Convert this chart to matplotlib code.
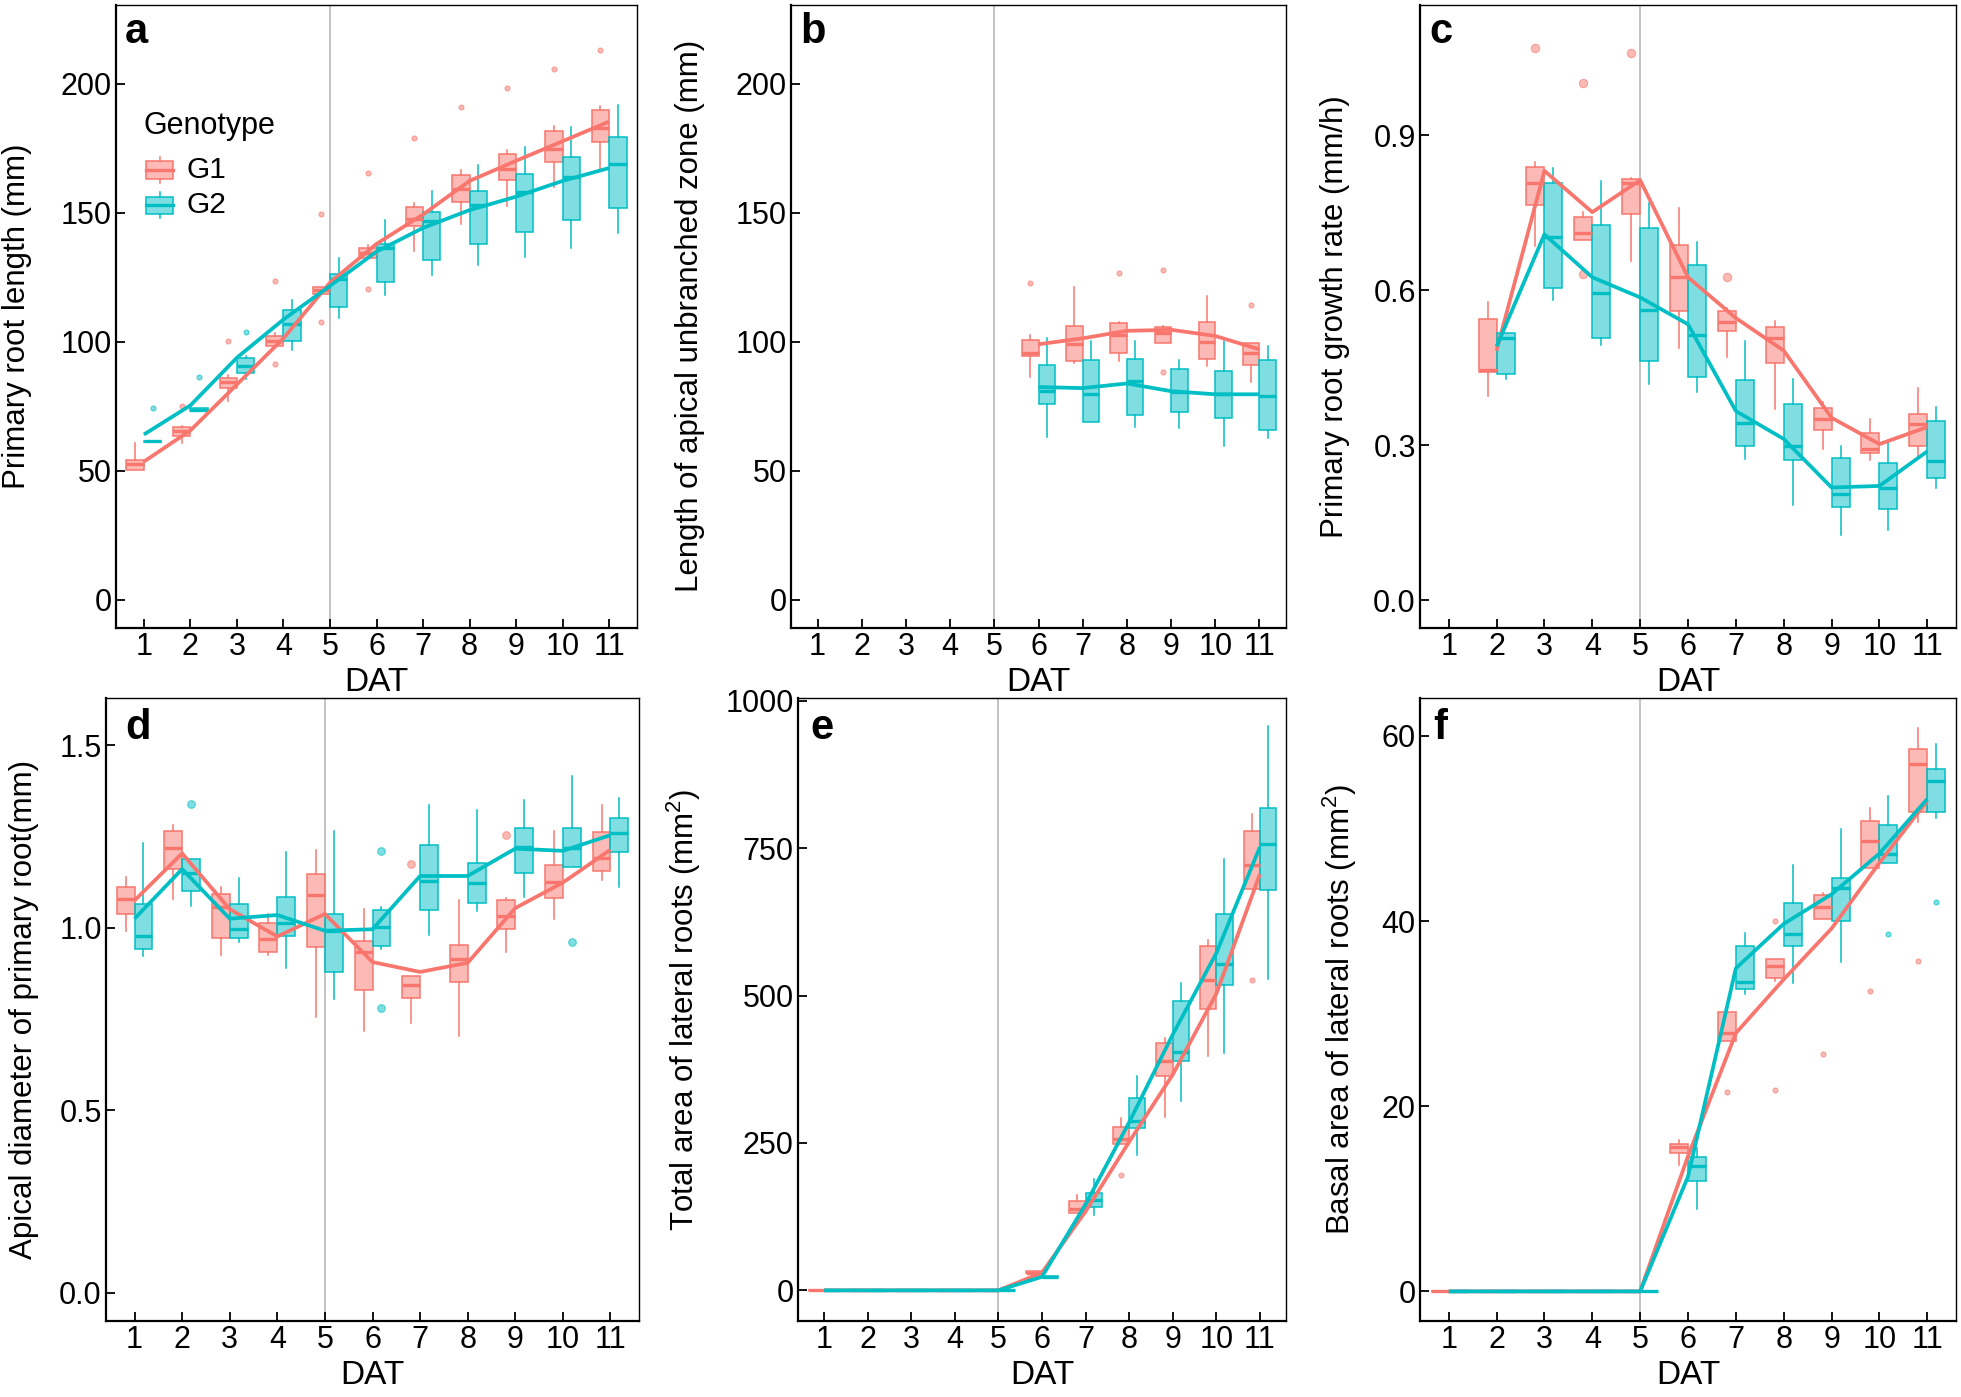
import matplotlib
matplotlib.use("Agg")
import matplotlib.pyplot as plt
from matplotlib.colors import to_rgba
from matplotlib.patches import Rectangle
from matplotlib.lines import Line2D

plt.rcParams['font.family'] = ['Liberation Sans', 'DejaVu Sans']
plt.rcParams['mathtext.fontset'] = 'custom'
plt.rcParams['mathtext.rm'] = 'Liberation Sans'
plt.rcParams['mathtext.it'] = 'Liberation Sans:italic'

# ---------------- data ----------------
genotypes = ["G1", "G2"]
colors = ["#F8766D", "#00BFC4"]
day_ticks = list(range(1, 12))

# panel a: primary root length (mm)
a_days = [1, 2, 3, 4, 5, 6, 7, 8, 9, 10, 11]
a_g1_med = [52.7, 65.3, 84.4, 100.5, 120.3, 134.5, 147.7, 159.4, 167.0, 174.9, 182.8]
a_g1_q1 = [50.3, 63.6, 82.1, 98.6, 118.7, 132.4, 145.1, 154.2, 162.7, 169.8, 177.5]
a_g1_q3 = [54.1, 66.9, 86.1, 102.3, 121.1, 136.4, 152.3, 164.8, 172.8, 181.8, 189.8]
a_g1_lo = [50.3, 61.0, 77.1, 98.6, 118.7, 132.4, 135.2, 145.6, 152.5, 160.1, 166.4]
a_g1_hi = [61.0, 67.4, 87.0, 103.5, 121.1, 137.6, 154.0, 166.6, 174.5, 183.7, 191.5]
a_g1_mean = [53.6, 65.7, 83.5, 101.4, 123.0, 138.0, 149.4, 162.4, 170.2, 177.8, 185.4]
a_g1_out = [(2, 75.2), (3, 100.3), (4, 123.7), (4, 91.3), (5, 149.6), (5, 107.6), (6, 165.3),
            (6, 120.5), (7, 178.9), (8, 191.0), (9, 198.6), (10, 205.9), (11, 213.0)]
a_g2_med = [61.5, 73.8, 90.8, 106.9, 124.3, 136.4, 146.8, 153.2, 158.0, 163.8, 168.8]
a_g2_q1 = [61.3, 73.3, 87.9, 100.3, 113.5, 123.4, 131.7, 138.1, 142.5, 147.1, 152.0]
a_g2_q3 = [61.7, 74.3, 93.9, 112.5, 126.3, 138.1, 150.3, 158.6, 165.0, 171.8, 179.4]
a_g2_lo = [61.3, 73.3, 85.6, 97.0, 109.2, 118.2, 126.0, 130.0, 133.0, 136.4, 142.1]
a_g2_hi = [61.7, 74.3, 94.5, 116.1, 132.4, 147.3, 158.6, 168.5, 175.4, 183.5, 191.7]
a_g2_mean = [64.1, 75.4, 93.9, 108.7, 121.7, 135.0, 144.2, 151.1, 156.3, 162.4, 167.4]
a_g2_out = [(1, 74.4), (2, 86.5), (3, 104.0)]

# panel b: length of apical unbranched zone (mm)
b_days = [6, 7, 8, 9, 10, 11]
b_g1_med = [95.8, 99.1, 102.6, 103.5, 100.0, 95.7]
b_g1_q1 = [94.5, 92.7, 95.7, 99.7, 93.2, 91.0]
b_g1_q3 = [100.9, 106.1, 107.5, 105.7, 107.8, 99.5]
b_g1_lo = [86.5, 91.9, 92.5, 99.7, 90.8, 84.4]
b_g1_hi = [102.6, 121.1, 107.8, 106.0, 117.9, 99.5]
b_g1_mean = [99.1, 101.4, 104.3, 104.7, 102.3, 97.1]
b_g1_out = [(6, 122.7), (8, 126.7), (9, 127.7), (9, 88.2), (11, 114.2)]
b_g2_med = [80.9, 80.0, 84.7, 80.6, 79.7, 79.2]
b_g2_q1 = [75.9, 68.8, 71.8, 72.8, 70.5, 65.9]
b_g2_q3 = [91.0, 92.9, 93.4, 89.4, 88.9, 93.1]
b_g2_lo = [63.3, 68.8, 67.0, 66.6, 59.6, 62.7]
b_g2_hi = [101.4, 100.5, 100.5, 92.9, 100.5, 98.3]
b_g2_mean = [82.5, 82.1, 83.9, 80.9, 79.7, 79.7]
b_g2_out = []

# panel c: primary root growth rate (mm/h)
c_days = [2, 3, 4, 5, 6, 7, 8, 9, 10, 11]
c_g1_med = [0.445, 0.807, 0.710, 0.807, 0.625, 0.539, 0.507, 0.351, 0.292, 0.340]
c_g1_q1 = [0.441, 0.764, 0.697, 0.748, 0.560, 0.520, 0.459, 0.329, 0.285, 0.298]
c_g1_q3 = [0.545, 0.839, 0.741, 0.816, 0.688, 0.560, 0.528, 0.372, 0.324, 0.361]
c_g1_lo = [0.396, 0.686, 0.697, 0.657, 0.489, 0.470, 0.370, 0.292, 0.272, 0.279]
c_g1_hi = [0.578, 0.849, 0.751, 0.818, 0.760, 0.565, 0.541, 0.383, 0.350, 0.411]
c_g1_mean = [0.483, 0.831, 0.751, 0.813, 0.625, 0.546, 0.483, 0.353, 0.302, 0.335]
c_g1_out = [(3, 1.069), (4, 1.002), (4, 0.632), (5, 1.059), (7, 0.625)]
c_g2_med = [0.507, 0.703, 0.595, 0.562, 0.513, 0.342, 0.298, 0.205, 0.217, 0.270]
c_g2_q1 = [0.437, 0.604, 0.508, 0.463, 0.431, 0.298, 0.272, 0.181, 0.177, 0.236]
c_g2_q3 = [0.517, 0.807, 0.727, 0.721, 0.649, 0.426, 0.380, 0.275, 0.266, 0.346]
c_g2_lo = [0.428, 0.580, 0.494, 0.418, 0.402, 0.273, 0.185, 0.127, 0.136, 0.217]
c_g2_hi = [0.517, 0.836, 0.812, 0.768, 0.693, 0.502, 0.428, 0.299, 0.309, 0.374]
c_g2_mean = [0.491, 0.708, 0.625, 0.586, 0.534, 0.366, 0.312, 0.218, 0.221, 0.288]
c_g2_out = []

# panel d: apical diameter of primary root (mm)
d_days = [1, 2, 3, 4, 5, 6, 7, 8, 9, 10, 11]
d_g1_med = [1.078, 1.220, 1.056, 0.970, 1.091, 0.933, 0.842, 0.915, 1.032, 1.125, 1.191]
d_g1_q1 = [1.039, 1.161, 0.971, 0.933, 0.946, 0.829, 0.808, 0.851, 0.996, 1.081, 1.156]
d_g1_q3 = [1.112, 1.265, 1.094, 1.014, 1.148, 0.965, 0.869, 0.953, 1.076, 1.171, 1.263]
d_g1_lo = [0.990, 1.078, 0.925, 0.925, 0.755, 0.716, 0.740, 0.703, 0.934, 1.023, 1.130]
d_g1_hi = [1.140, 1.281, 1.113, 1.039, 1.214, 1.051, 0.869, 1.076, 1.082, 1.265, 1.337]
d_g1_mean = [1.075, 1.204, 1.051, 0.976, 1.038, 0.906, 0.879, 0.904, 1.054, 1.124, 1.214]
d_g1_out = [(7, 1.174), (9, 1.254)]
d_g2_med = [0.977, 1.150, 0.998, 1.014, 0.992, 1.001, 1.128, 1.124, 1.222, 1.220, 1.259]
d_g2_q1 = [0.943, 1.100, 0.971, 0.977, 0.879, 0.949, 1.050, 1.068, 1.150, 1.168, 1.207]
d_g2_q3 = [1.066, 1.189, 1.064, 1.084, 1.038, 1.050, 1.226, 1.177, 1.273, 1.273, 1.302]
d_g2_lo = [0.922, 1.060, 0.962, 0.891, 0.804, 0.941, 0.980, 1.045, 1.084, 1.168, 1.113]
d_g2_hi = [1.232, 1.189, 1.136, 1.207, 1.265, 1.057, 1.337, 1.324, 1.349, 1.416, 1.355]
d_g2_mean = [1.025, 1.161, 1.025, 1.035, 0.992, 0.996, 1.142, 1.142, 1.217, 1.211, 1.254]
d_g2_out = [(2, 1.339), (6, 1.211), (6, 0.780), (10, 0.962)]

# panel e: total area of lateral roots (mm^2)
e_days = [1, 2, 3, 4, 5, 6, 7, 8, 9, 10, 11]
e_g1_med = [0, 0, 0, 0, 0, 30, 138, 257, 389, 527, 721]
e_g1_q1 = [0, 0, 0, 0, 0, 29, 132, 248, 364, 478, 681]
e_g1_q3 = [0, 0, 0, 0, 0, 32, 151, 277, 419, 584, 780]
e_g1_lo = [0, 0, 0, 0, 0, 28, 132, 248, 294, 398, 681]
e_g1_hi = [0, 0, 0, 0, 0, 33, 161, 292, 428, 594, 808]
e_g1_mean = [0, 0, 0, 0, 0, 30, 134, 252, 366, 503, 706]
e_g1_out = [(8, 195), (11, 527)]
e_g2_med = [0, 0, 0, 0, 0, 23, 153, 288, 405, 554, 757]
e_g2_q1 = [0, 0, 0, 0, 0, 22, 142, 276, 389, 518, 680]
e_g2_q3 = [0, 0, 0, 0, 0, 24, 166, 326, 491, 639, 819]
e_g2_lo = [0, 0, 0, 0, 0, 21, 127, 229, 322, 402, 528]
e_g2_hi = [0, 0, 0, 0, 0, 25, 189, 364, 522, 732, 957]
e_g2_mean = [0, 0, 0, 0, 0, 23, 146, 285, 434, 572, 752]
e_g2_out = []

# panel f: basal area of lateral roots (mm^2)
f_days = [1, 2, 3, 4, 5, 6, 7, 8, 9, 10, 11]
f_g1_med = [0, 0, 0, 0, 0, 15.6, 27.9, 35.2, 41.5, 48.6, 57.0]
f_g1_q1 = [0, 0, 0, 0, 0, 14.9, 27.1, 33.8, 40.2, 45.7, 51.8]
f_g1_q3 = [0, 0, 0, 0, 0, 15.9, 30.2, 35.9, 42.8, 50.8, 58.6]
f_g1_lo = [0, 0, 0, 0, 0, 13.7, 27.1, 33.5, 40.2, 45.7, 50.7]
f_g1_hi = [0, 0, 0, 0, 0, 16.3, 30.2, 35.9, 43.0, 52.2, 60.9]
f_g1_mean = [0, 0, 0, 0, 0, 14.6, 27.9, 33.7, 39.2, 46.3, 53.0]
f_g1_out = [(7, 21.5), (8, 40.0), (8, 21.7), (9, 25.6), (10, 32.4), (11, 35.7)]
f_g2_med = [0, 0, 0, 0, 0, 13.5, 33.4, 38.6, 43.6, 47.2, 55.1]
f_g2_q1 = [0, 0, 0, 0, 0, 11.9, 32.7, 37.3, 40.0, 46.3, 51.8]
f_g2_q3 = [0, 0, 0, 0, 0, 14.5, 37.3, 42.0, 44.7, 50.4, 56.4]
f_g2_lo = [0, 0, 0, 0, 0, 8.9, 32.1, 33.3, 35.6, 46.3, 51.1]
f_g2_hi = [0, 0, 0, 0, 0, 15.5, 38.7, 46.1, 49.9, 53.5, 59.1]
f_g2_mean = [0, 0, 0, 0, 0, 12.4, 34.9, 39.7, 42.9, 47.3, 53.2]
f_g2_out = [(10, 38.6), (11, 42.1)]

a_yticks = [0, 50, 100, 150, 200]
b_yticks = [0, 50, 100, 150, 200]
c_yticks = [0.0, 0.3, 0.6, 0.9]
c_yticklabels = ["0.0", "0.3", "0.6", "0.9"]
d_yticks = [0.0, 0.5, 1.0, 1.5]
d_yticklabels = ["0.0", "0.5", "1.0", "1.5"]
e_yticks = [0, 250, 500, 750, 1000]
f_yticks = [0, 20, 40, 60]

ylabels = ["Primary root length (mm)",
           "Length of apical unbranched zone (mm)",
           "Primary root growth rate (mm/h)",
           "Apical diameter of primary root(mm)",
           r"Total area of lateral roots (mm$^2$)",
           r"Basal area of lateral roots (mm$^2$)"]
letters = ["a", "b", "c", "d", "e", "f"]

# ---------------- figure ----------------
W, H = 1961, 1397
fig = plt.figure(figsize=(W / 100, H / 100), dpi=100)

def frac_axes(l, r, t, b):
    return fig.add_axes([l / W, 1 - b / H, (r - l) / W, (b - t) / H])

row1 = (4.5, 628)
row2 = (698, 1321)
ax_a = frac_axes(116, 637, *row1)
ax_b = frac_axes(791, 1286, *row1)
ax_c = frac_axes(1420, 1956, *row1)
ax_d = frac_axes(106, 639, *row2)
ax_e = frac_axes(798, 1286, *row2)
ax_f = frac_axes(1420, 1956, *row2)

BW = 0.375
DODGE = 0.1875


def draw_group(ax, days, med, q1, q3, lo, hi, out, color, offset, msize):
    stats = []
    for i, d in enumerate(days):
        stats.append(dict(med=med[i], q1=q1[i], q3=q3[i], whislo=lo[i], whishi=hi[i],
                          fliers=[v for (dd, v) in out if dd == d]))
    pos = [d + offset for d in days]
    ax.bxp(stats, positions=pos, widths=BW, patch_artist=True, showcaps=False,
           manage_ticks=False,
           boxprops=dict(facecolor=to_rgba(color, 0.5), edgecolor=color, linewidth=1.1),
           whiskerprops=dict(color=color, linewidth=1.1),
           medianprops=dict(color=color, linewidth=2.4),
           flierprops=dict(marker='o', markerfacecolor=to_rgba(color, 0.5),
                           markeredgecolor=to_rgba(color, 0.6), markersize=msize,
                           markeredgewidth=0.8, linestyle='none'))


panels = [
    (ax_a, a_days, [(a_g1_med, a_g1_q1, a_g1_q3, a_g1_lo, a_g1_hi, a_g1_out, a_g1_mean),
                    (a_g2_med, a_g2_q1, a_g2_q3, a_g2_lo, a_g2_hi, a_g2_out, a_g2_mean)],
     (-10.9, 230.8), a_yticks, [str(v) for v in a_yticks], 3.6),
    (ax_b, b_days, [(b_g1_med, b_g1_q1, b_g1_q3, b_g1_lo, b_g1_hi, b_g1_out, b_g1_mean),
                    (b_g2_med, b_g2_q1, b_g2_q3, b_g2_lo, b_g2_hi, b_g2_out, b_g2_mean)],
     (-10.9, 230.8), b_yticks, [str(v) for v in b_yticks], 3.6),
    (ax_c, c_days, [(c_g1_med, c_g1_q1, c_g1_q3, c_g1_lo, c_g1_hi, c_g1_out, c_g1_mean),
                    (c_g2_med, c_g2_q1, c_g2_q3, c_g2_lo, c_g2_hi, c_g2_out, c_g2_mean)],
     (-0.054, 1.153), c_yticks, c_yticklabels, 6.0),
    (ax_d, d_days, [(d_g1_med, d_g1_q1, d_g1_q3, d_g1_lo, d_g1_hi, d_g1_out, d_g1_mean),
                    (d_g2_med, d_g2_q1, d_g2_q3, d_g2_lo, d_g2_hi, d_g2_out, d_g2_mean)],
     (-0.078, 1.63), d_yticks, d_yticklabels, 5.5),
    (ax_e, e_days, [(e_g1_med, e_g1_q1, e_g1_q3, e_g1_lo, e_g1_hi, e_g1_out, e_g1_mean),
                    (e_g2_med, e_g2_q1, e_g2_q3, e_g2_lo, e_g2_hi, e_g2_out, e_g2_mean)],
     (-52, 1005), e_yticks, [str(v) for v in e_yticks], 3.6),
    (ax_f, f_days, [(f_g1_med, f_g1_q1, f_g1_q3, f_g1_lo, f_g1_hi, f_g1_out, f_g1_mean),
                    (f_g2_med, f_g2_q1, f_g2_q3, f_g2_lo, f_g2_hi, f_g2_out, f_g2_mean)],
     (-3.2, 64.1), f_yticks, [str(v) for v in f_yticks], 3.6),
]

ylabel_x = [-0.19, -0.204, -0.158, -0.154, -0.233, -0.149]
letter_pos = [(0.017, 0.939), (0.018, 0.939), (0.017, 0.939),
              (0.036, 0.934), (0.025, 0.934), (0.024, 0.934)]

for idx, (ax, days, groups, ylim, yt, ytl, msize) in enumerate(panels):
    ax.axvline(5, color="#BEBEBE", linewidth=1.3, zorder=0.5)
    for gi, (med, q1, q3, lo, hi, out, mean) in enumerate(groups):
        off = -DODGE if gi == 0 else DODGE
        draw_group(ax, days, med, q1, q3, lo, hi, out, colors[gi], off, msize)
    for gi, (med, q1, q3, lo, hi, out, mean) in enumerate(groups):
        ax.plot(days, mean, color=colors[gi], linewidth=2.7, zorder=4,
                solid_capstyle='butt', solid_joinstyle='round')
    ax.set_xlim(0.4, 11.6)
    ax.set_ylim(*ylim)
    ax.set_xticks(day_ticks)
    ax.set_xticklabels([str(d) for d in day_ticks])
    ax.set_yticks(yt)
    ax.set_yticklabels(ytl)
    ax.tick_params(direction='in', length=6.5, width=1.3, labelsize=22, pad=3,
                   colors='black')
    for side in ['left', 'bottom']:
        ax.spines[side].set_linewidth(1.6)
    for side in ['top', 'right']:
        ax.spines[side].set_linewidth(1.0)
    ax.set_xlabel("DAT", fontsize=24)
    ax.xaxis.set_label_coords(0.5, -0.088)
    ax.xaxis.label.set_va('center')
    ax.set_ylabel(ylabels[idx], fontsize=22.5)
    ax.yaxis.set_label_coords(ylabel_x[idx], 0.5)
    ax.yaxis.label.set_va('center')
    lx, ly = letter_pos[idx]
    ax.text(lx, ly, letters[idx], transform=ax.transAxes, fontsize=30,
            fontweight='bold', ha='left', va='baseline')

# legend (panel a) drawn in axes fraction coordinates
ax_a.text(0.052, 0.792, "Genotype", transform=ax_a.transAxes, fontsize=22,
          ha='left', va='baseline')
key_specs = [(0.735, 0.749, 0.720, 0.755, 0.714), (0.678, 0.691, 0.664, 0.699, 0.658)]
for gi, (ymed, ytop, ybot, wtop, wbot) in enumerate(key_specs):
    c = colors[gi]
    x0, x1 = 0.0576, 0.1094
    xm = (x0 + x1) / 2
    ax_a.add_patch(Rectangle((x0, ybot), x1 - x0, ytop - ybot, transform=ax_a.transAxes,
                             facecolor=to_rgba(c, 0.5), edgecolor=c, linewidth=1.1, zorder=5))
    ax_a.add_line(Line2D([xm, xm], [ytop, wtop], transform=ax_a.transAxes, color=c,
                         linewidth=1.1, zorder=5))
    ax_a.add_line(Line2D([xm, xm], [ybot, wbot], transform=ax_a.transAxes, color=c,
                         linewidth=1.1, zorder=5))
    ax_a.add_line(Line2D([x0, x1], [ymed, ymed], transform=ax_a.transAxes, color=c,
                         linewidth=2.4, zorder=5))
    ax_a.text(0.136, ymed, genotypes[gi], transform=ax_a.transAxes, fontsize=21.5,
              ha='left', va='center')

fig.savefig("out.png", dpi=100)
